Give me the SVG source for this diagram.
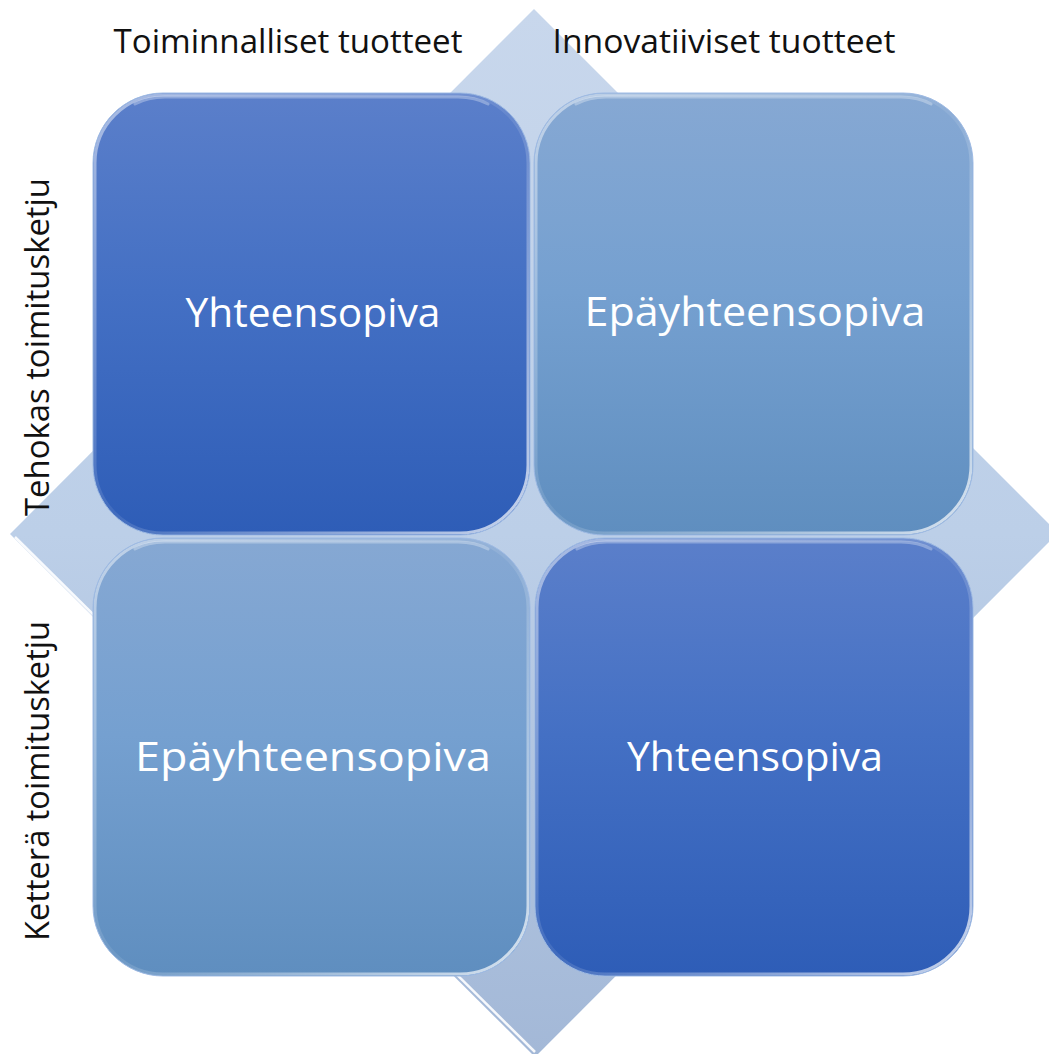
<svg xmlns="http://www.w3.org/2000/svg" width="1049" height="1054" viewBox="0 0 1049 1054">
  <defs>
    <linearGradient id="gDiamond" x1="0" y1="0" x2="0" y2="1">
      <stop offset="0" stop-color="#c8d7ec"/>
      <stop offset="0.5" stop-color="#bccfe8"/>
      <stop offset="1" stop-color="#a3b8d7"/>
    </linearGradient>
    <linearGradient id="gDark" x1="0" y1="0" x2="0" y2="1">
      <stop offset="0" stop-color="#5b7fca"/>
      <stop offset="0.45" stop-color="#4470c4"/>
      <stop offset="1" stop-color="#2e5db7"/>
    </linearGradient>
    <linearGradient id="gLight" x1="0" y1="0" x2="0" y2="1">
      <stop offset="0" stop-color="#86a8d3"/>
      <stop offset="0.45" stop-color="#75a0d0"/>
      <stop offset="1" stop-color="#5f8ebf"/>
    </linearGradient>
    <linearGradient id="gRim" x1="0" y1="0" x2="1" y2="1">
      <stop offset="0" stop-color="#ffffff" stop-opacity="0.5"/>
      <stop offset="0.5" stop-color="#ffffff" stop-opacity="0.08"/>
      <stop offset="1" stop-color="#ffffff" stop-opacity="0.75"/>
    </linearGradient>
  </defs>
  <style>
    .edge { fill: none; stroke: #9fbbe4; stroke-width: 1; }
    .rim { fill: none; stroke: url(#gRim); stroke-width: 3; }
    .gloss { fill: none; stroke: #ffffff; stroke-opacity: 0.3; stroke-width: 3; stroke-linecap: round; }
    .cell { font-family: "Open Sans", "Liberation Sans", sans-serif; font-size: 40px; fill: #ffffff; text-anchor: middle; }
    .axis { font-family: "Open Sans", "Liberation Sans", sans-serif; font-size: 32px; fill: #111111; text-anchor: middle; }
  </style>

  <rect width="1049" height="1054" fill="#ffffff"/>

  <!-- background diamond -->
  <g id="diamond">
    <polygon points="534,9 1058,533 535,1057 10,534" fill="url(#gDiamond)"/>
    <line x1="15" y1="537" x2="535" y2="1052" stroke="#ffffff" stroke-width="2.5" stroke-opacity="0.9"/>
  </g>

  <!-- quadrant: top left -->
  <g id="cell-tl">
    <rect x="93" y="93" width="437" height="442" rx="70" fill="url(#gDark)"/>
    <path class="gloss" d="M135,104 Q148,97 165,97 L458,97 Q475,97 488,104"/>
    <rect x="95" y="95" width="433" height="438" rx="68" class="rim"/>
    <rect x="93" y="93" width="437" height="442" rx="70" class="edge"/>
    <text class="cell" x="313" y="327" textLength="255" lengthAdjust="spacingAndGlyphs">Yhteensopiva</text>
  </g>

  <!-- quadrant: top right -->
  <g id="cell-tr">
    <rect x="534" y="93" width="439" height="442" rx="70" fill="url(#gLight)"/>
    <path class="gloss" d="M576,104 Q589,97 606,97 L901,97 Q918,97 931,104"/>
    <rect x="536" y="95" width="435" height="438" rx="68" class="rim"/>
    <rect x="534" y="93" width="439" height="442" rx="70" class="edge"/>
    <text class="cell" x="755" y="326" textLength="341" lengthAdjust="spacingAndGlyphs">Epäyhteensopiva</text>
  </g>

  <!-- quadrant: bottom left -->
  <g id="cell-bl">
    <rect x="93" y="538" width="437" height="438" rx="70" fill="url(#gLight)"/>
    <path class="gloss" d="M135,549 Q148,542 165,542 L458,542 Q475,542 488,549"/>
    <rect x="95" y="540" width="433" height="434" rx="68" class="rim"/>
    <rect x="93" y="538" width="437" height="438" rx="70" class="edge"/>
    <text class="cell" x="313" y="771" textLength="356" lengthAdjust="spacingAndGlyphs">Epäyhteensopiva</text>
  </g>

  <!-- quadrant: bottom right -->
  <g id="cell-br">
    <rect x="535" y="538" width="438" height="438" rx="70" fill="url(#gDark)"/>
    <path class="gloss" d="M577,549 Q590,542 607,542 L901,542 Q918,542 931,549"/>
    <rect x="537" y="540" width="434" height="434" rx="68" class="rim"/>
    <rect x="535" y="538" width="438" height="438" rx="70" class="edge"/>
    <text class="cell" x="755" y="771" textLength="256" lengthAdjust="spacingAndGlyphs">Yhteensopiva</text>
  </g>

  <!-- axis labels -->
  <g id="label-functional">
    <text class="axis" x="288" y="53" textLength="349" lengthAdjust="spacingAndGlyphs">Toiminnalliset tuotteet</text>
  </g>
  <g id="label-innovative">
    <text class="axis" x="724" y="53" textLength="343" lengthAdjust="spacingAndGlyphs">Innovatiiviset tuotteet</text>
  </g>
  <g id="label-efficient">
    <text class="axis" transform="translate(49,347) rotate(-90)" textLength="338" lengthAdjust="spacingAndGlyphs">Tehokas toimitusketju</text>
  </g>
  <g id="label-agile">
    <text class="axis" transform="translate(49,781) rotate(-90)" textLength="320" lengthAdjust="spacingAndGlyphs">Ketterä toimitusketju</text>
  </g>
</svg>
